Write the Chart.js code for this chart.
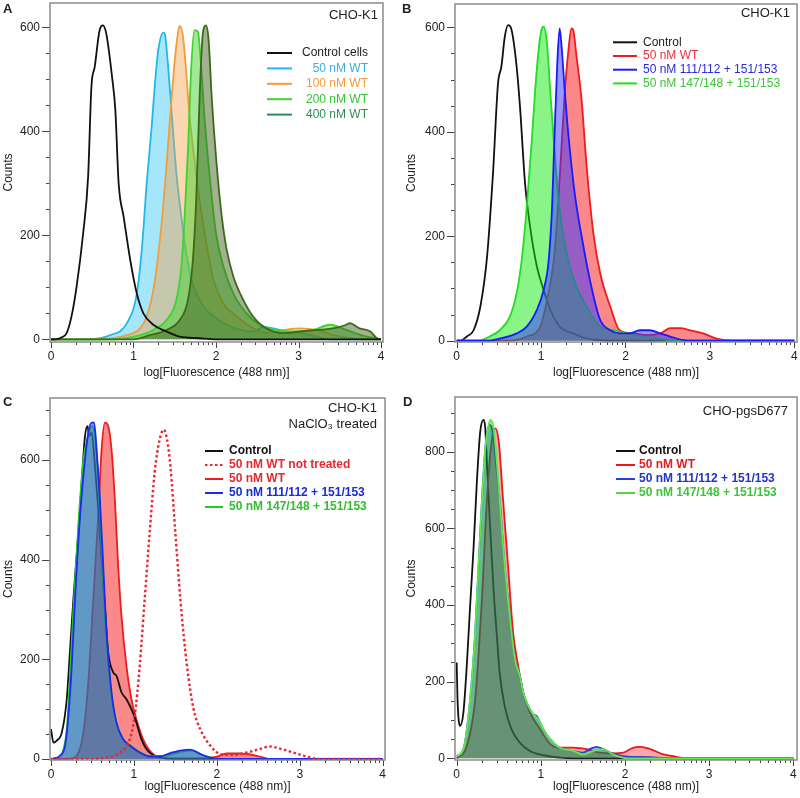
<!DOCTYPE html>
<html>
<head>
<meta charset="utf-8">
<script src="https://cdn.jsdelivr.net/npm/chart.js@4.4.1/dist/chart.umd.min.js"></script>
<style>
  html, body { margin: 0; padding: 0; background: #fff; overflow: hidden; }
  #wrap { position: relative; width: 800px; height: 798px; }
  canvas { position: absolute; }
</style>
</head>
<body>
<div id="wrap">
  <canvas id="chartA" width="400" height="384" style="left:0;top:0"></canvas>
  <canvas id="chartB" width="400" height="384" style="left:400px;top:0"></canvas>
  <canvas id="chartC" width="400" height="413" style="left:0;top:385px"></canvas>
  <canvas id="chartD" width="400" height="413" style="left:400px;top:385px"></canvas>
</div>
<script>
const xTitle = 'log[Fluorescence (488 nm)]';
const yTitle = 'Counts';

// ---- panel A : CHO-K1, WT dose series  ([log fluorescence, counts])
const aLabels = ['Control cells', '50 nM WT', '100 nM WT', '200 nM WT', '400 nM WT'];
const aControl = [[0,0],[0.05,0],[0.12,3],[0.19,12],[0.25,45],[0.31,101],[0.39,204],[0.45,313],[0.49,486],[0.53,524],[0.59,595],[0.63,604],[0.67,588],[0.74,505],[0.78,441],[0.82,300],[0.88,236],[0.96,153],[1.04,88],[1.12,50],[1.24,28],[1.40,15],[1.56,5],[1.8,2],[2.0,0],[4,0]];
const a50 = [[0,0],[0.45,0],[0.72,8],[0.92,31],[1.04,88],[1.10,172],[1.16,300],[1.22,409],[1.26,492],[1.30,556],[1.36,590],[1.38,587],[1.42,524],[1.46,441],[1.52,319],[1.58,236],[1.64,165],[1.73,101],[1.85,63],[1.97,44],[2.13,28],[2.29,18],[2.45,15],[2.57,24],[2.69,21],[2.86,15],[3.02,12],[3.22,5],[3.38,0],[4,0]];
const a100 = [[0,0],[0.6,0],[0.92,8],[1.08,21],[1.16,44],[1.24,94],[1.32,191],[1.38,294],[1.42,377],[1.46,460],[1.50,537],[1.54,590],[1.56,603],[1.60,582],[1.64,512],[1.68,428],[1.74,345],[1.80,268],[1.89,178],[1.97,114],[2.09,69],[2.25,44],[2.45,21],[2.61,12],[2.82,18],[3.02,21],[3.22,18],[3.42,8],[3.62,2],[3.8,0],[4,0]];
const a200 = [[0,0],[0.76,0],[1.08,8],[1.24,18],[1.40,37],[1.52,76],[1.58,140],[1.62,236],[1.66,364],[1.70,524],[1.74,595],[1.78,592],[1.82,524],[1.86,428],[1.92,319],[2.00,204],[2.09,140],[2.21,88],[2.37,50],[2.53,28],[2.73,18],[2.94,15],[3.18,18],[3.38,28],[3.58,18],[3.83,5],[3.95,2],[4,0]];
const a400 = [[0,0],[1.0,0],[1.2,8],[1.40,18],[1.56,37],[1.66,76],[1.72,153],[1.76,268],[1.80,460],[1.84,588],[1.88,604],[1.91,576],[1.95,460],[2.01,332],[2.07,236],[2.13,172],[2.21,121],[2.33,76],[2.45,44],[2.61,21],[2.82,12],[3.02,15],[3.22,18],[3.42,21],[3.58,28],[3.62,31],[3.74,21],[3.87,15],[3.95,2],[4,0]];

// ---- panel B : CHO-K1, WT vs mutants
const bLabels = ['Control', '50 nM WT', '50 nM 111/112 + 151/153', '50 nM 147/148 + 151/153'];
const bControl = [[0,0],[0.05,0],[0.12,8],[0.20,20],[0.28,65],[0.36,161],[0.43,320],[0.49,493],[0.53,525],[0.57,582],[0.61,604],[0.65,595],[0.71,525],[0.75,448],[0.81,301],[0.87,218],[0.95,142],[1.03,97],[1.11,59],[1.22,27],[1.38,14],[1.54,4],[1.70,1],[1.9,0],[4,0]];
const bWT = [[0,0],[0.63,0],[0.83,8],[0.99,27],[1.07,78],[1.15,154],[1.20,256],[1.24,366],[1.28,474],[1.32,550],[1.36,598],[1.38,595],[1.42,544],[1.48,460],[1.54,333],[1.62,205],[1.70,129],[1.82,65],[1.93,20],[2.09,14],[2.25,11],[2.41,14],[2.53,24],[2.65,24],[2.76,20],[2.92,14],[3.08,4],[3.26,0],[4,0]];
const bM111 = [[0,0],[0.36,0],[0.51,4],[0.71,14],[0.83,27],[0.95,59],[1.03,97],[1.09,154],[1.13,256],[1.16,397],[1.19,525],[1.22,598],[1.24,569],[1.28,480],[1.32,400],[1.40,280],[1.48,200],[1.60,100],[1.70,40],[1.82,20],[1.93,14],[2.05,14],[2.17,20],[2.29,20],[2.41,14],[2.53,8],[2.69,1],[2.76,0],[4,0]];
const bM147 = [[0,0],[0.26,0],[0.39,8],[0.51,20],[0.63,46],[0.71,91],[0.77,154],[0.83,256],[0.89,384],[0.93,480],[0.97,556],[1.01,598],[1.03,601],[1.07,569],[1.11,474],[1.15,384],[1.20,282],[1.26,205],[1.34,142],[1.42,103],[1.54,65],[1.70,27],[1.86,20],[2.01,14],[2.21,8],[2.41,4],[2.57,0],[4,0]];

// ---- panel C : CHO-K1, NaClO3 treated
const cLabels = ['Control', '50 nM WT not treated', '50 nM WT', '50 nM 111/112 + 151/153', '50 nM 147/148 + 151/153'];
const cControl = [[0,60],[0.03,33],[0.07,37],[0.13,53],[0.19,120],[0.23,220],[0.27,321],[0.33,454],[0.37,555],[0.41,648],[0.44,668],[0.46,648],[0.49,655],[0.53,588],[0.57,501],[0.61,401],[0.65,307],[0.69,214],[0.75,174],[0.79,167],[0.85,134],[0.91,120],[0.97,100],[1.03,73],[1.09,40],[1.15,20],[1.23,8],[1.39,1],[1.6,0],[4,0]];
const cUntreated = [[0,0],[0.39,0],[0.67,3],[0.83,13],[0.95,40],[1.01,87],[1.07,187],[1.13,321],[1.19,454],[1.25,575],[1.31,641],[1.36,661],[1.40,641],[1.44,588],[1.50,454],[1.56,321],[1.64,187],[1.72,100],[1.80,60],[1.92,27],[2.04,10],[2.20,8],[2.36,13],[2.52,20],[2.64,25],[2.76,21],[2.92,13],[3.08,5],[3.24,0],[4,0]];
const cWT = [[0,0],[0.19,0],[0.31,7],[0.39,53],[0.45,154],[0.51,321],[0.57,488],[0.61,621],[0.65,675],[0.69,668],[0.73,621],[0.77,521],[0.81,388],[0.85,287],[0.91,187],[0.97,120],[1.03,80],[1.11,40],[1.19,17],[1.31,3],[1.48,1],[1.80,1],[2.00,5],[2.12,11],[2.28,11],[2.44,8],[2.56,3],[2.64,0],[4,0]];
const cM111 = [[0,0],[0.03,1],[0.11,7],[0.17,27],[0.21,87],[0.25,187],[0.29,321],[0.35,488],[0.41,601],[0.45,655],[0.49,675],[0.52,675],[0.55,621],[0.59,521],[0.63,388],[0.67,254],[0.73,134],[0.79,73],[0.87,40],[0.95,27],[1.07,13],[1.19,5],[1.31,5],[1.44,12],[1.56,17],[1.68,19],[1.80,10],[1.92,3],[2.04,0],[4,0]];
const cM147 = [[0,0],[0.07,2],[0.13,10],[0.19,60],[0.23,170],[0.27,300],[0.33,470],[0.39,600],[0.45,650],[0.49,668],[0.53,650],[0.57,560],[0.61,420],[0.65,290],[0.71,160],[0.77,85],[0.85,45],[0.95,28],[1.07,14],[1.19,6],[1.35,6],[1.47,10],[1.59,15],[1.71,17],[1.83,8],[1.96,2],[2.1,0],[4,0]];

// ---- panel D : CHO-pgsD677
const dLabels = ['Control', '50 nM WT', '50 nM 111/112 + 151/153', '50 nM 147/148 + 151/153'];
const dControl = [[0,250],[0.01,154],[0.04,85],[0.08,120],[0.12,242],[0.16,399],[0.20,547],[0.24,722],[0.28,853],[0.32,883],[0.34,861],[0.36,765],[0.40,591],[0.44,434],[0.48,312],[0.51,224],[0.57,137],[0.65,76],[0.75,41],[0.87,19],[1.03,8],[1.23,2],[1.4,0],[4,0]];
const dWT = [[0,0],[0.12,32],[0.22,154],[0.30,416],[0.36,678],[0.42,835],[0.46,861],[0.50,826],[0.55,678],[0.61,503],[0.67,329],[0.73,242],[0.79,172],[0.87,120],[0.99,76],[1.11,37],[1.23,28],[1.39,28],[1.54,24],[1.70,15],[1.86,13],[1.98,15],[2.10,28],[2.18,30],[2.30,24],[2.46,10],[2.61,4],[2.69,0],[4,0]];
const dM111 = [[0,5],[0.08,24],[0.16,154],[0.22,329],[0.28,591],[0.34,809],[0.39,870],[0.42,860],[0.46,780],[0.51,678],[0.57,503],[0.63,373],[0.69,259],[0.75,216],[0.79,172],[0.85,137],[0.91,115],[0.95,110],[1.03,76],[1.11,50],[1.19,32],[1.27,24],[1.39,19],[1.50,15],[1.58,24],[1.66,30],[1.74,24],[1.86,12],[2.0,5],[2.3,3],[2.5,0],[4,0]];
const dM147 = [[0,6],[0.08,24],[0.16,154],[0.22,329],[0.28,591],[0.34,809],[0.38,870],[0.40,883],[0.44,861],[0.48,765],[0.51,678],[0.57,503],[0.63,373],[0.69,259],[0.75,216],[0.79,172],[0.85,137],[0.91,115],[0.97,102],[1.03,76],[1.11,50],[1.19,32],[1.27,24],[1.39,19],[1.50,10],[1.62,19],[1.74,24],[1.86,10],[2.02,0],[4,0]];

Chart.defaults.font.family = '"Liberation Sans", Arial, sans-serif';
Chart.defaults.font.size = 12;
Chart.defaults.color = '#222';

function series(points, line, fill, order, extra) {
  return Object.assign({
    data: points.map(p => ({ x: p[0], y: p[1] })),
    borderColor: line,
    backgroundColor: fill || 'transparent',
    fill: fill ? 'origin' : false,
    borderWidth: 1.8,
    pointRadius: 0,
    cubicInterpolationMode: 'monotone',
    order: order
  }, extra || {});
}

// frame, tick marks, panel notes and in-plot legend
const panelDecor = {
  id: 'panelDecor',
  afterDatasetsDraw(chart, args, o) {
    const { ctx, chartArea: a, scales: { x, y } } = chart;
    const seg = (x1, y1, x2, y2) => { ctx.beginPath(); ctx.moveTo(x1, y1); ctx.lineTo(x2, y2); ctx.stroke(); };
    ctx.save();
    ctx.strokeStyle = '#444';
    ctx.lineWidth = 1;
    for (let v = 0; v <= y.max; v += 50) {
      const py = Math.round(y.getPixelForValue(v)) + 0.5;
      const len = v % 200 === 0 ? 8 : 4;
      seg(a.left - len, py, a.left, py);
    }
    for (let d = 0; d <= 4; d++) {
      for (let k = 1; k <= 9; k++) {
        const v = d + Math.log10(k);
        if (v > 4) break;
        const px = Math.round(x.getPixelForValue(v)) + 0.5;
        seg(px, a.bottom, px, a.bottom + (k === 1 ? 6 : 3));
      }
    }
    ctx.strokeStyle = '#8a8a8a';
    ctx.lineWidth = 1.5;
    ctx.strokeRect(a.left, a.top, a.right - a.left, a.bottom - a.top);

    ctx.textBaseline = 'middle';
    o.notes.forEach(n => {
      ctx.font = n.font;
      ctx.fillStyle = '#222';
      ctx.textAlign = n.align;
      ctx.fillText(n.text, n.x, n.y);
    });

    const lg = o.legend;
    ctx.font = lg.font;
    ctx.textAlign = lg.align;
    lg.labels.forEach((label, i) => {
      const ly = lg.y + i * lg.dy;
      ctx.strokeStyle = lg.lines[i];
      ctx.lineWidth = 2;
      ctx.setLineDash(lg.dash && lg.dash[i] ? lg.dash[i] : []);
      seg(lg.x1, ly, lg.x2, ly);
      ctx.setLineDash([]);
      ctx.fillStyle = lg.texts[i];
      ctx.fillText(label, lg.tx, ly);
    });
    ctx.restore();
  }
};

function makePanel(id, p) {
  return new Chart(document.getElementById(id), {
    type: 'line',
    data: { datasets: p.datasets },
    options: {
      responsive: false,
      animation: false,
      events: [],
      layout: { padding: p.pad },
      plugins: {
        legend: { display: false },
        tooltip: { enabled: false },
        panelDecor: p.decor
      },
      scales: {
        x: {
          type: 'linear',
          min: p.xMin,
          max: p.xMax,
          grid: { display: false, drawTicks: false },
          border: { display: false },
          ticks: { stepSize: 1, includeBounds: false, padding: 7, maxRotation: 0, autoSkip: false },
          title: { display: true, text: xTitle, padding: { top: 0, bottom: 4 } },
          afterFit: s => { s.height = p.xHeight; s.paddingLeft = 0; s.paddingRight = 0; }
        },
        y: {
          min: p.yMin,
          max: p.yMax,
          grid: { display: false, drawTicks: false },
          border: { display: false },
          ticks: { stepSize: 200, includeBounds: false, padding: 10 },
          title: { display: true, text: yTitle, padding: { top: p.yTitlePad, bottom: 0 } },
          afterFit: s => { s.width = p.yWidth; s.paddingTop = 0; s.paddingBottom = 0; }
        }
      }
    },
    plugins: [panelDecor]
  });
}

const noteFont = '13px "Liberation Sans", Arial, sans-serif';
const letterFont = 'bold 13px "Liberation Sans", Arial, sans-serif';

// A
const aLines = ['#111111', '#22b8ec', '#f39c3c', '#3fd32f', '#3b6a1a'];
const aFills = [null, 'rgba(40,195,245,0.42)', 'rgba(245,160,70,0.42)', 'rgba(70,210,50,0.5)', 'rgba(60,95,25,0.48)'];
const aData = [aControl, a50, a100, a200, a400];
const aOrder = [0, 4, 3, 2, 1];
makePanel('chartA', {
  datasets: aData.map((d, i) => series(d, aLines[i], aFills[i], aOrder[i])),
  pad: { left: 0, right: 17, top: 3, bottom: 0 },
  yWidth: 50, xHeight: 42, yTitlePad: 1,
  xMin: -0.012, xMax: 4.024, yMin: -5.2, yMax: 647,
  decor: {
    notes: [
      { text: 'A', x: 3, y: 9, align: 'left', font: letterFont },
      { text: 'CHO-K1', x: 378, y: 15, align: 'right', font: noteFont }
    ],
    legend: {
      labels: aLabels, lines: ['#111111', '#22b8ec', '#f39c3c', '#3fd32f', '#2e8b57'],
      texts: ['#222222', '#3aafe0', '#f39c3c', '#35c435', '#2e8b57'],
      x1: 267, x2: 292, tx: 368, y: 53, dy: 15.4, align: 'right',
      font: '12px "Liberation Sans", Arial, sans-serif'
    }
  }
});

// B  (stacking bottom to top: control, WT, 147/148, 111/112)
const bLines = ['#111111', '#ee1c1c', '#1a1aff', '#22dd22'];
const bFills = [null, 'rgba(250,40,40,0.55)', 'rgba(50,50,255,0.5)', 'rgba(20,235,20,0.5)'];
const bData = [bControl, bWT, bM111, bM147];
const bOrder = [3, 2, 0, 1];
makePanel('chartB', {
  datasets: bData.map((d, i) => series(d, bLines[i], bFills[i], bOrder[i])),
  pad: { left: 0, right: 3, top: 4, bottom: 0 },
  yWidth: 55, xHeight: 42, yTitlePad: 4,
  xMin: -0.02, xMax: 4.032, yMin: -2.5, yMax: 644.6,
  decor: {
    notes: [
      { text: 'B', x: 2, y: 9, align: 'left', font: letterFont },
      { text: 'CHO-K1', x: 390, y: 13, align: 'right', font: noteFont }
    ],
    legend: {
      labels: bLabels, lines: bLines,
      texts: ['#222222', '#e8323c', '#2a2ad8', '#3cc43c'],
      x1: 213, x2: 237, tx: 243, y: 42.3, dy: 13.7, align: 'left',
      font: '12px "Liberation Sans", Arial, sans-serif'
    }
  }
});

// C
const cLines = ['#111111', '#e8282e', '#ee1c1c', '#1a2aee', '#22cc22'];
const cFills = [null, null, 'rgba(245,40,40,0.55)', 'rgba(40,90,210,0.55)', 'rgba(40,190,80,0.4)'];
const cData = [cControl, cUntreated, cWT, cM111, cM147];
const cOrder = [3, 0, 4, 1, 2];
const cDash = [null, [2.5, 2.5], null, null, null];
makePanel('chartC', {
  datasets: cData.map((d, i) => series(d, cLines[i], cFills[i], cOrder[i],
    cDash[i] ? { borderDash: cDash[i], borderWidth: 2.4 } : {})),
  pad: { left: 0, right: 15, top: 13, bottom: 0 },
  yWidth: 50, xHeight: 38, yTitlePad: 1,
  xMin: -0.012, xMax: 4.028, yMin: -2, yMax: 724.5,
  decor: {
    notes: [
      { text: 'C', x: 3, y: 17, align: 'left', font: letterFont },
      { text: 'CHO-K1', x: 377, y: 23, align: 'right', font: noteFont },
      { text: 'NaClO₃ treated', x: 377, y: 39, align: 'right', font: noteFont }
    ],
    legend: {
      labels: cLabels, lines: ['#111111', '#e8282e', '#ee1c1c', '#1a2aee', '#22cc22'],
      dash: cDash,
      texts: ['#111111', '#e8282e', '#e8282e', '#1a2ad8', '#2fbf2f'],
      x1: 205, x2: 223, tx: 229, y: 66, dy: 14, align: 'left',
      font: 'bold 12px "Liberation Sans", Arial, sans-serif'
    }
  }
});

// D
const dLines = ['#111111', '#e8191f', '#2b3fe0', '#62e84a'];
const dFills = [null, 'rgba(255,0,0,0.35)', 'rgba(0,0,255,0.33)', 'rgba(0,200,0,0.4)'];
const dData = [dControl, dWT, dM111, dM147];
const dOrder = [3, 2, 1, 0];
makePanel('chartD', {
  datasets: dData.map((d, i) => series(d, dLines[i], dFills[i], dOrder[i])),
  pad: { left: 0, right: 3, top: 12, bottom: 0 },
  yWidth: 55, xHeight: 38, yTitlePad: 4,
  xMin: -0.02, xMax: 4.043, yMin: -4.4, yMax: 942.7,
  decor: {
    notes: [
      { text: 'D', x: 3, y: 17, align: 'left', font: letterFont },
      { text: 'CHO-pgsD677', x: 388, y: 26, align: 'right', font: noteFont }
    ],
    legend: {
      labels: dLabels, lines: ['#111111', '#e8191f', '#2b3fe0', '#4ed83a'],
      texts: ['#111111', '#e8191f', '#2233cc', '#3cc43c'],
      x1: 216, x2: 235, tx: 239, y: 66, dy: 14, align: 'left',
      font: 'bold 12px "Liberation Sans", Arial, sans-serif'
    }
  }
});
</script>
</body>
</html>
